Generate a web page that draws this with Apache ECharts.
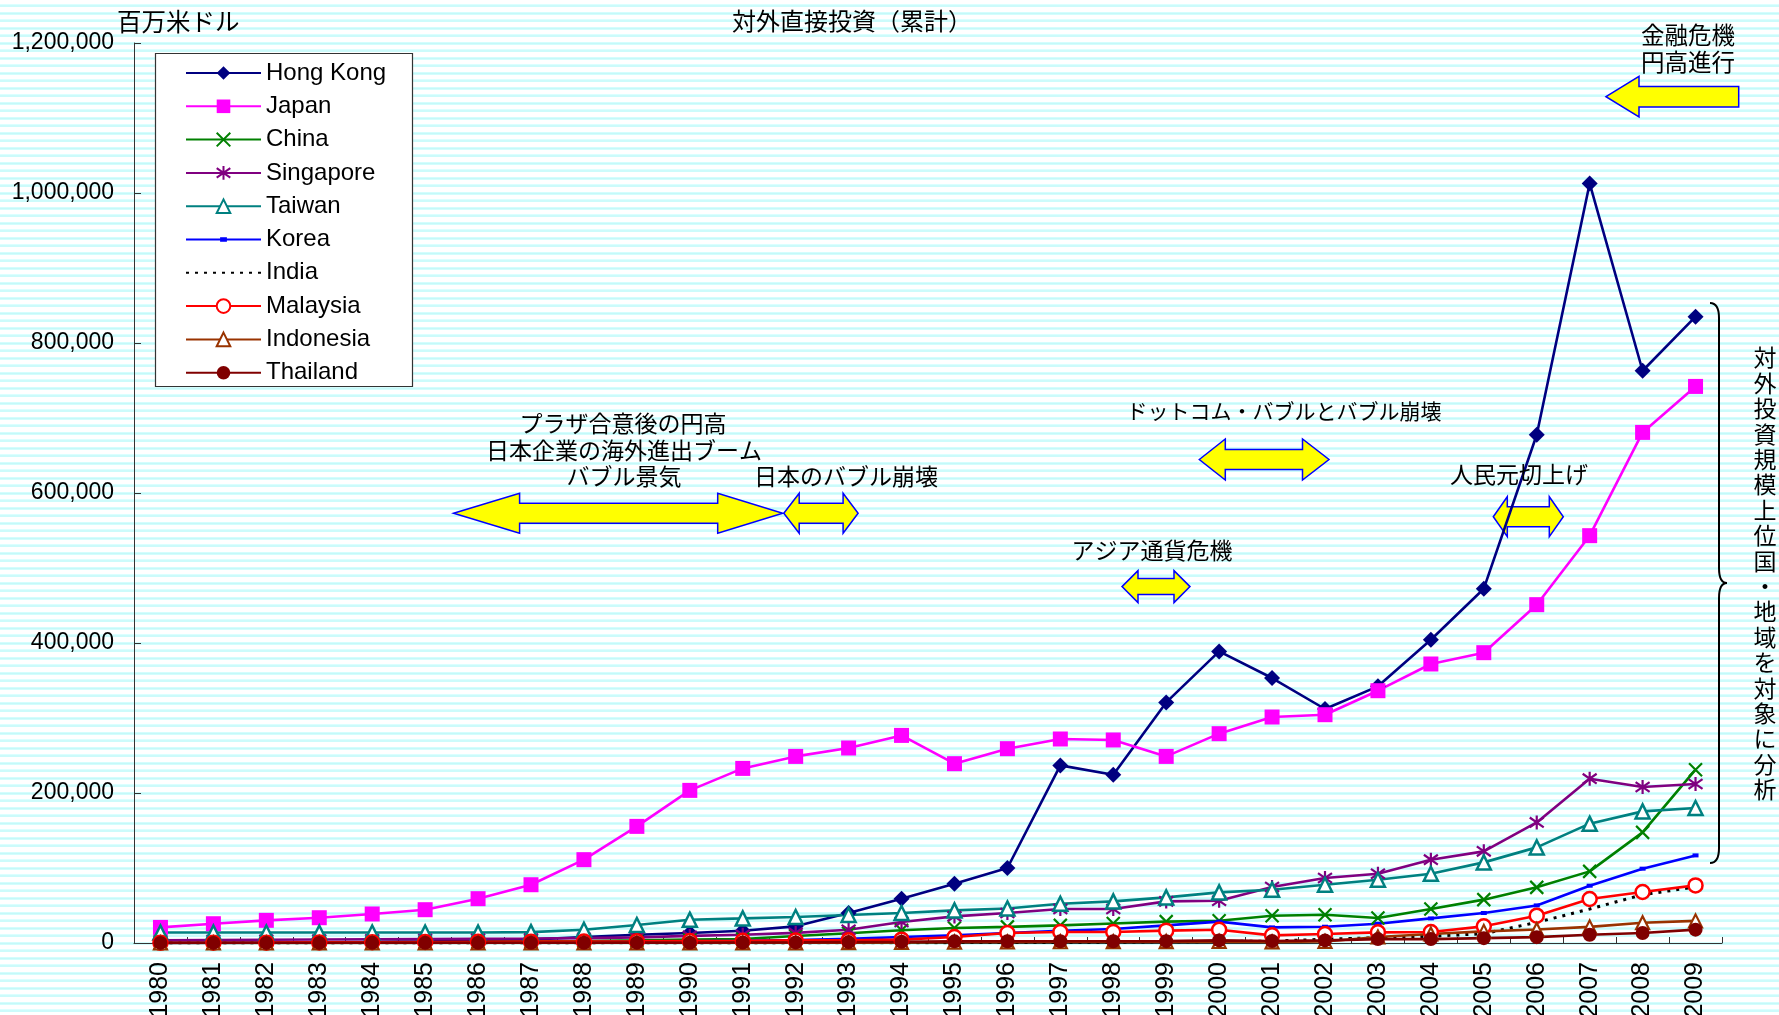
<!DOCTYPE html>
<html>
<head>
<meta charset="utf-8">
<script src="https://cdn.jsdelivr.net/npm/echarts@6/dist/echarts.min.js"></script>
<style>
  html, body { margin: 0; padding: 0; }
  #chart {
    width: 1779px; height: 1015px;
    background: repeating-linear-gradient(to bottom,
      #ffffff 0px, #ffffff 4.5px, #dcffff 4.5px, #c4f9f9 6px, #dcffff 7.5px);
  }
</style>
</head>
<body>
<div id="chart"></div>
<script>
// Outward FDI stock, million US$ (cumulative)
const years = ['1980','1981','1982','1983','1984','1985','1986','1987','1988','1989',
               '1990','1991','1992','1993','1994','1995','1996','1997','1998','1999',
               '2000','2001','2002','2003','2004','2005','2006','2007','2008','2009'];

const hongKong = [150, 400, 700, 1000, 1500, 2300, 3200, 4500, 8000, 11000,
                  13300, 16400, 22200, 40000, 59100, 79100, 100000, 236800, 224400, 320800,
                  388800, 353300, 312000, 342200, 404400, 472400, 677700, 1012800, 763000, 835100];
const japan = [20800, 25700, 30200, 33700, 38700, 44400, 59100, 77700, 111100, 155500,
               203500, 232800, 248800, 260000, 276800, 239100, 259100, 272000, 270700, 248800,
               279100, 301300, 304400, 336400, 372000, 387100, 451100, 543100, 680800, 742100];
const china = [40, 80, 120, 200, 300, 900, 1300, 1900, 2700, 3500,
               4500, 5400, 9400, 13000, 17000, 20000, 21500, 23500, 26000, 28500,
               29700, 36400, 37700, 33300, 45300, 57800, 74200, 95500, 147500, 231100];
const singapore = [3700, 4000, 4300, 4700, 5000, 5300, 5600, 6000, 6500, 7500,
                   9500, 11000, 13500, 17700, 28000, 35500, 40000, 45300, 45300, 55500,
                   56400, 74700, 86700, 92400, 111100, 122200, 160800, 219100, 208000, 212000];
const taiwan = [14000, 14000, 14000, 14000, 14000, 14000, 14000, 14500, 17700, 24000,
                31100, 32800, 34700, 37300, 40000, 43500, 46100, 52400, 55500, 60800,
                67500, 71100, 77700, 84400, 92400, 107500, 127500, 159100, 175500, 180000];
const korea = [130, 200, 300, 400, 500, 500, 500, 600, 900, 1500,
               2300, 3000, 4000, 5500, 8000, 10200, 13300, 16400, 18700, 23500,
               28500, 20800, 21700, 25700, 32800, 40000, 50100, 76400, 99100, 116800];
const india = [80, 90, 100, 110, 120, 130, 140, 150, 160, 180,
               120, 130, 150, 200, 300, 500, 600, 800, 1000, 1700,
               1900, 2600, 5000, 7000, 8900, 12400, 27500, 45300, 64400, 74700];
const malaysia = [200, 300, 500, 800, 1000, 1400, 1600, 1800, 2000, 2300,
                  2700, 3000, 3500, 3700, 4500, 8000, 13300, 14700, 14700, 16500,
                  17700, 10200, 12000, 14200, 14700, 22200, 36400, 58700, 68000, 76800];
const indonesia = [10, 20, 30, 40, 50, 50, 60, 70, 80, 90,
                   90, 150, 300, 500, 800, 1300, 1500, 1700, 1800, 1900,
                   2000, 1500, 2000, 8000, 12000, 15500, 18000, 21500, 27000, 29500];
const thailand = [100, 100, 100, 100, 200, 200, 300, 300, 400, 500,
                  400, 600, 800, 1200, 1600, 2200, 2300, 2300, 2400, 2500,
                  3500, 2700, 3500, 5200, 5200, 6500, 7800, 11000, 13300, 17800];

const yTicks = { min: 0, max: 1200000, step: 200000 };

const LATIN = '"Liberation Sans", Arial, sans-serif';
const JP = '"Noto Sans CJK JP", "Noto Sans", sans-serif';

const SYM_X = 'path://M0,0L10,10M10,0L0,10';
const SYM_STAR = 'path://M5,0L5,10M0,1.5L10,8.5M0,8.5L10,1.5';
const SYM_SMALLRECT = 'path://M0,0M12,12M3,4L9,4L9,8L3,8Z';

function lineSeries(name, data, color, symbol, size, extra) {
  const s = {
    name, type: 'line', data,
    symbol, symbolSize: size,
    lineStyle: { color, width: 2.6 },
    itemStyle: { color },
    emphasis: { disabled: true },
    animation: false,
    z: 2
  };
  return Object.assign(s, extra || {});
}

const series = [
  lineSeries('Hong Kong', hongKong, '#000080', 'diamond', 16),
  lineSeries('Japan', japan, '#FF00FF', 'rect', 15),
  lineSeries('China', china, '#008000', SYM_X, 13,
    { itemStyle: { color: '#008000', borderColor: '#008000', borderWidth: 2.2 } }),
  lineSeries('Singapore', singapore, '#800080', SYM_STAR, 14,
    { itemStyle: { color: '#800080', borderColor: '#800080', borderWidth: 2.2 } }),
  lineSeries('Taiwan', taiwan, '#008080', 'triangle', 14,
    { itemStyle: { color: '#ffffff', borderColor: '#008080', borderWidth: 2.5 } }),
  lineSeries('Korea', korea, '#0000FF', SYM_SMALLRECT, 12),
  lineSeries('India', india, '#000000', 'none', 1,
    { lineStyle: { color: '#000000', width: 3, type: [3, 6] },
      itemStyle: { color: '#000000', opacity: 0 } }),
  lineSeries('Malaysia', malaysia, '#FF0000', 'circle', 14,
    { itemStyle: { color: '#ffffff', borderColor: '#FF0000', borderWidth: 2.5 } }),
  lineSeries('Indonesia', indonesia, '#993300', 'triangle', 13,
    { itemStyle: { color: '#ffffff', borderColor: '#993300', borderWidth: 2.2 } }),
  lineSeries('Thailand', thailand, '#800000', 'circle', 14)
];

// Double-headed block arrow outline
function doubleArrow(x1, x2, yc, headL, headR, headHalf, shaftHalf) {
  return [
    [x1, yc], [x1 + headL, yc - headHalf], [x1 + headL, yc - shaftHalf],
    [x2 - headR, yc - shaftHalf], [x2 - headR, yc - headHalf], [x2, yc],
    [x2 - headR, yc + headHalf], [x2 - headR, yc + shaftHalf],
    [x1 + headL, yc + shaftHalf], [x1 + headL, yc + headHalf]
  ];
}
function leftArrow(xTip, xEnd, yc, head, headHalf, shaftHalf) {
  return [
    [xTip, yc], [xTip + head, yc - headHalf], [xTip + head, yc - shaftHalf],
    [xEnd, yc - shaftHalf], [xEnd, yc + shaftHalf], [xTip + head, yc + shaftHalf],
    [xTip + head, yc + headHalf]
  ];
}
const arrowStyle = { fill: '#FFFF00', stroke: '#0000FF', lineWidth: 1.5 };
function arrow(points) {
  return { type: 'polygon', z: 1, silent: true, shape: { points }, style: arrowStyle };
}
function label(text, x, y, size, align) {
  return {
    type: 'text', z: 5, silent: true, x, y,
    style: {
      text, fill: '#000', fontSize: size || 23, fontFamily: JP,
      align: align || 'center', textAlign: align || 'center',
      verticalAlign: 'middle', textVerticalAlign: 'middle'
    }
  };
}
const braceStyle = { fill: 'none', stroke: '#000', lineWidth: 2 };
function curve(x1, y1, cpx, cpy, x2, y2) {
  return { type: 'bezierCurve', z: 5, silent: true,
           shape: { x1, y1, x2, y2, cpx1: cpx, cpy1: cpy }, style: braceStyle };
}
function segment(x1, y1, x2, y2) {
  return { type: 'line', z: 5, silent: true, shape: { x1, y1, x2, y2 }, style: braceStyle };
}

const sideNote = '対外投資規模上位国・地域を対象に分析';

const graphics = [
  // legend frame
  { type: 'rect', z: 3, silent: true,
    shape: { x: 155.5, y: 53.5, width: 257, height: 333 },
    style: { fill: '#ffffff', stroke: '#333333', lineWidth: 1.2 } },
  label('対外直接投資（累計）', 852, 20.5, 24),
  label('百万米ドル', 117, 21.5, 24.5, 'left'),
  label('プラザ合意後の円高', 623, 423.3, 23),
  label('日本企業の海外進出ブーム', 624, 450, 23),
  label('バブル景気', 624, 476.7, 23),
  label('日本のバブル崩壊', 846, 476.7, 23),
  label('ドットコム・バブルとバブル崩壊', 1284, 410.7, 21),
  label('アジア通貨危機', 1152, 550.3, 23),
  label('人民元切上げ', 1519, 474, 23),
  label('金融危機', 1688, 35, 23.5),
  label('円高進行', 1688, 61.7, 23.5),
  arrow(doubleArrow(453.6, 782.7, 513.3, 66, 65, 20, 10)),
  arrow(doubleArrow(783.8, 858.1, 513.3, 15.4, 15, 20, 10)),
  arrow(doubleArrow(1199.3, 1329, 459.5, 26, 26.5, 20.5, 10)),
  arrow(doubleArrow(1122, 1190, 586.6, 16, 16, 16, 8)),
  arrow(doubleArrow(1493.3, 1563.3, 516.7, 14, 14, 20, 10)),
  arrow(leftArrow(1606, 1738.7, 96.7, 33, 20.3, 10.3)),
  // brace grouping the top economies
  curve(1710, 303, 1719, 303, 1719, 318),
  segment(1719, 318, 1719, 568),
  curve(1719, 568, 1719, 583, 1727, 583),
  curve(1727, 583, 1719, 583, 1719, 598),
  segment(1719, 598, 1719, 848),
  curve(1719, 848, 1719, 863, 1710, 863),
  { type: 'text', z: 5, silent: true, x: 1765, y: 345,
    style: {
      text: sideNote.split('').join('\n'), fill: '#000', fontSize: 23, fontFamily: JP,
      lineHeight: 25.4, align: 'center', textAlign: 'center',
      verticalAlign: 'top', textVerticalAlign: 'top'
    } }
];

const chart = echarts.init(document.getElementById('chart'), null, { renderer: 'canvas' });
chart.setOption({
  backgroundColor: 'transparent',
  animation: false,
  grid: { left: 134, right: 57, top: 43, bottom: 72, containLabel: false,
          outerBoundsMode: 'none' },
  legend: {
    orient: 'vertical', left: 185, top: 61, padding: 0,
    itemWidth: 75, itemHeight: 17, itemGap: 9.3,
    selectedMode: false,
    data: series.map(s => s.name),
    textStyle: { fontSize: 24, lineHeight: 24, color: '#000', fontFamily: LATIN },
    z: 6
  },
  xAxis: {
    type: 'category', data: years, boundaryGap: true,
    axisLine: { lineStyle: { color: '#333', width: 1 } },
    axisTick: { show: true, inside: true, length: 6, interval: 0,
                lineStyle: { color: '#333' } },
    axisLabel: { rotate: 90, interval: 0, margin: 19, fontSize: 25,
                 color: '#000', fontFamily: LATIN },
    splitLine: { show: false }
  },
  yAxis: {
    type: 'value', min: yTicks.min, max: yTicks.max, interval: yTicks.step,
    axisLine: { show: true, lineStyle: { color: '#333', width: 1 } },
    axisTick: { show: true, inside: true, length: 7, lineStyle: { color: '#333' } },
    axisLabel: { margin: 20, fontSize: 23, color: '#000', fontFamily: LATIN,
                 formatter: v => v.toLocaleString('en-US') },
    splitLine: { show: false }
  },
  series,
  graphic: graphics
});
</script>
</body>
</html>
